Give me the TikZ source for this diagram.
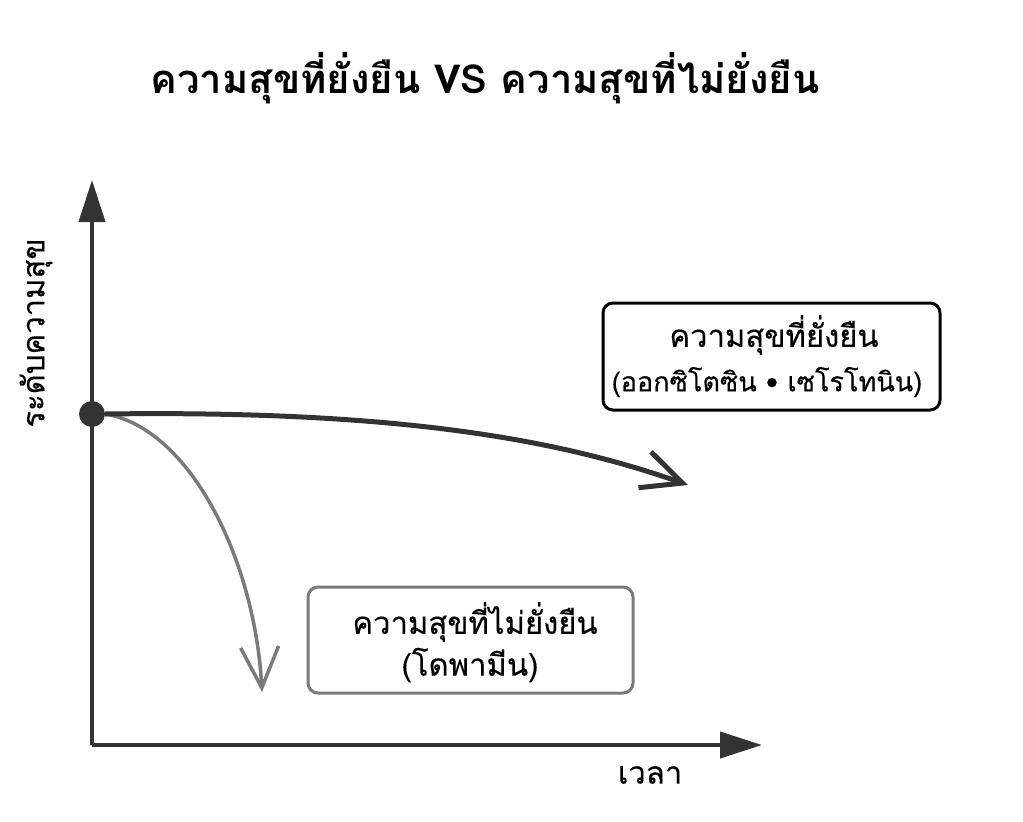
\documentclass[tikz,border=0pt]{standalone}
\usepackage{fontspec}
\setmainfont[Script=Thai]{Loma}
\newfontfamily\medthai[Script=Thai,FakeBold=0.3]{Loma}
\usetikzlibrary{arrows.meta}
\definecolor{ink}{HTML}{333333}
\definecolor{soft}{HTML}{7A7A7A}
\tikzset{
  axisline/.style={draw=ink, line width=4pt, -{Triangle[length=42pt,width=26pt]}},
  goodbox/.style={draw=black, line width=3pt, rounded corners=10pt, minimum width=337pt, minimum height=107pt, align=center, inner sep=0pt},
  badbox/.style={draw=soft, line width=3pt, rounded corners=10pt, minimum width=325pt, minimum height=106pt, align=center, inner sep=0pt},
  boxtext/.style={font=\medthai\fontsize{31}{48}\selectfont},
  boxsmall/.style={font=\medthai\fontsize{27}{40}\selectfont},
  goodcurve/.style={draw=ink, line width=5pt, -{Straight Barb[length=40pt,width=38pt]}},
  badcurve/.style={draw=soft, line width=3.5pt, -{Straight Barb[length=41pt,width=38pt]}}
}
\begin{document}
\begin{tikzpicture}[x=1pt,y=-1pt]
\useasboundingbox (0,0) rectangle (1023,822);
\node[font=\fontsize{40}{48}\selectfont\bfseries] (title) at (485,78) {ความสุขที่ยั่งยืน VS ความสุขที่ไม่ยั่งยืน};
% axes
\coordinate (origin) at (92,745);
\coordinate (ytip) at (92,180);
\coordinate (xtip) at (762,745);
\draw[axisline] (origin) -- (ytip);
\draw[axisline] (origin) -- (xtip);
\node[rotate=90, font=\medthai\fontsize{31}{36}\selectfont] (ylab) at (36,333) {ระดับความสุข};
\node[font=\medthai\fontsize{31}{36}\selectfont] (xlab) at (650,775) {เวลา};
% start dot
\node[circle, fill=ink, minimum size=26pt, inner sep=0pt] (dot) at (92,414) {};
% curves
\coordinate (goodend) at (688,485);
\coordinate (badend) at (262,692);
\draw[badcurve] (dot.east) .. controls (190,428) and (255,560) .. (badend);
\draw[goodcurve] (dot.east) .. controls (400,410) and (560,440) .. (goodend);
% boxes
\node[goodbox] (good) at (771.5,356.5) {};
\node[boxtext] (goodA) at (774,335) {ความสุขที่ยั่งยืน};
\node[boxsmall] (goodB) at (767,382) {(ออกซิโตซิน • เซโรโทนิน)};
\node[badbox] (bad) at (470.5,640) {};
\node[boxtext] (badA) at (475,622) {ความสุขที่ไม่ยั่งยืน};
\node[boxtext] (badB) at (470,665) {(โดพามีน)};
\end{tikzpicture}
\end{document}
